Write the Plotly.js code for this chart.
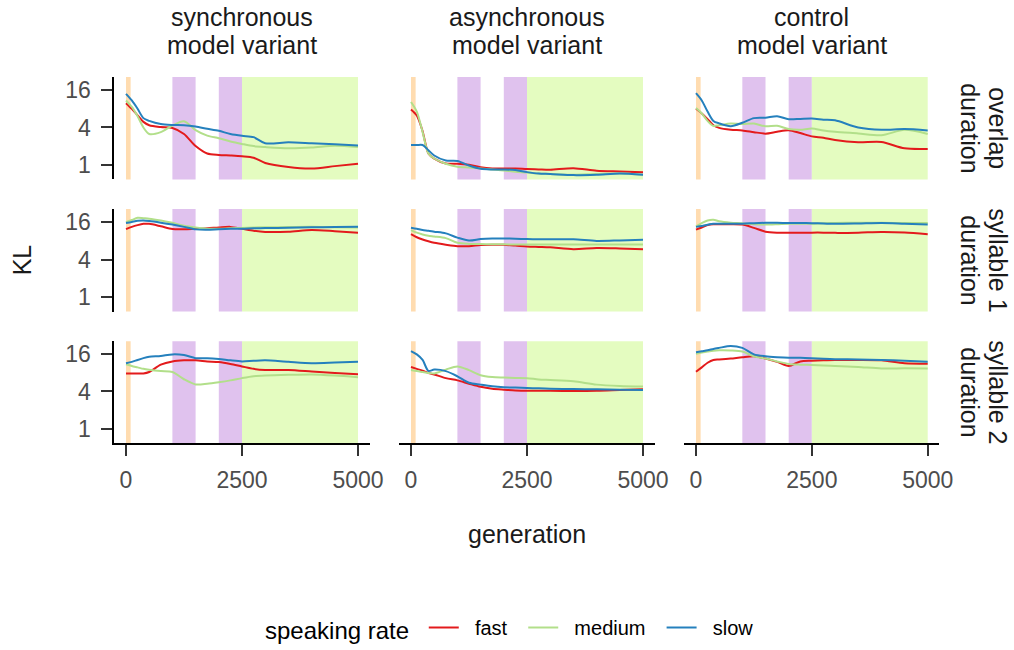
<!DOCTYPE html>
<html>
<head>
<meta charset="utf-8">
<script src="https://cdn.plot.ly/plotly-3.0.1.min.js"></script>
<style>html,body{margin:0;padding:0;background:#fff}#chart{width:1014px;height:650px}</style>
</head>
<body>
<div id="chart"></div>
<script>
// ---------- data ----------
const generation = [0,125,250,375,500,750,1000,1250,1500,1750,2000,2250,2500,2750,3000,3500,4000,4500,5000];
const variants = ['synchronous', 'asynchronous', 'control'];
const variantSuffix = 'model variant';
const measures = ['overlap', 'syllable 1', 'syllable 2'];
const measureSuffix = 'duration';
const rates = ['fast', 'medium', 'slow'];
const legendTitle = 'speaking rate';
const xTickVals = [0, 2500, 5000];
const xTickText = ['0', '2500', '5000'];
const yTickVals = [1, 4, 16];
const yTickText = ['1', '4', '16'];
// training phases (generation ranges)
const phaseStart = [0, 1000, 2000, 2500];
const phaseEnd = [100, 1500, 2500, 5000];

// KL values: synchronous
const sync_overlap_fast   = [9.85,8.0,6.28,4.92,4.35,4.06,3.92,3.14,2.0,1.52,1.44,1.41,1.37,1.30,1.07,0.92,0.87,0.95,1.04];
const sync_overlap_medium = [10.9,8.57,6.06,4.0,3.14,3.36,4.29,5.03,3.63,2.95,2.68,2.38,2.17,2.0,1.93,1.84,1.89,2.03,1.93];
const sync_overlap_slow   = [13.9,10.9,8.0,5.66,5.1,4.53,4.38,4.35,4.14,3.81,3.53,3.14,2.93,2.79,2.22,2.30,2.22,2.14,2.04];
const sync_syl1_fast   = [12.4,13.5,14.4,15.1,15.1,13.8,12.5,12.4,12.6,12.8,13.2,13.5,12.6,11.7,11.2,11.3,12.0,11.5,10.9];
const sync_syl1_medium = [16.0,17.4,18.9,18.6,18.3,17.1,15.7,14.1,13.2,12.6,12.6,12.8,13.0,13.2,13.3,13.4,13.5,13.3,13.2];
const sync_syl1_slow   = [15.6,16.2,16.9,17.1,16.8,15.8,14.7,13.5,12.3,12.1,12.4,12.6,12.6,12.8,12.9,13.1,13.3,13.4,13.5];
const sync_syl2_fast   = [7.84,7.84,7.84,7.84,8.28,10.9,12.3,12.8,12.8,12.3,12.0,11.2,10.2,9.32,8.94,8.94,8.46,8.0,7.62];
const sync_syl2_medium = [11.1,10.4,9.85,9.32,9.0,8.57,8.28,6.32,5.21,5.35,5.66,6.06,6.59,7.06,7.26,7.46,7.57,7.26,6.82];
const sync_syl2_slow   = [11.5,12.1,13.0,13.9,14.6,15.1,16.0,15.6,13.9,13.9,13.5,12.8,12.3,12.6,12.8,12.1,11.5,11.8,12.2];
// asynchronous
const async_overlap_fast   = [7.83,6.23,3.48,1.52,1.26,1.05,1.04,1.0,0.91,0.87,0.87,0.87,0.85,0.84,0.83,0.88,0.80,0.78,0.76];
const async_overlap_medium = [10.3,7.21,3.36,1.52,1.26,1.04,0.93,0.90,0.87,0.84,0.81,0.77,0.75,0.72,0.71,0.69,0.71,0.72,0.69];
const async_overlap_slow   = [2.08,2.08,2.08,1.72,1.41,1.17,1.15,0.97,0.86,0.84,0.84,0.82,0.76,0.72,0.71,0.68,0.69,0.72,0.69];
const async_syl1_fast   = [10.3,9.19,8.46,7.89,7.46,6.96,6.59,6.59,6.87,6.96,6.92,6.73,6.5,6.41,6.32,5.9,6.15,6.06,5.9];
const async_syl1_medium = [12.0,10.9,10.2,9.71,9.45,8.88,7.46,7.16,7.11,7.06,7.06,7.01,7.01,7.01,7.01,7.01,7.01,7.01,7.01];
const async_syl1_slow   = [13.1,12.6,12.0,11.7,11.3,10.6,9.06,8.11,8.57,8.75,8.75,8.69,8.57,8.51,8.51,8.51,8.0,8.17,8.4];
const async_syl2_fast   = [9.99,9.32,8.69,8.0,7.57,6.59,6.06,5.35,4.76,4.44,4.29,4.17,4.11,4.11,4.11,4.08,4.11,4.23,4.35];
const async_syl2_medium = [8.94,8.57,8.28,8.0,7.84,9.06,10.2,8.88,7.36,6.87,6.73,6.63,6.59,6.28,6.15,5.86,5.17,4.92,4.82];
const async_syl2_slow   = [18.1,16.0,13.0,8.63,9.06,8.57,7.06,5.54,5.17,4.86,4.69,4.63,4.56,4.5,4.44,4.38,4.35,4.29,4.23];
// control
const control_overlap_fast   = [8.0,6.73,5.46,4.35,3.94,3.68,3.58,3.36,3.18,3.41,3.61,3.25,2.87,2.73,2.5,2.3,2.33,1.84,1.8];
const control_overlap_medium = [8.22,6.73,5.1,4.23,4.35,4.63,4.53,4.63,4.17,4.26,3.78,3.68,3.84,3.58,3.41,3.2,2.99,3.66,3.14];
const control_overlap_slow   = [14.3,10.9,7.21,5.1,4.66,4.2,4.76,5.66,5.74,6.06,5.43,5.5,5.58,5.35,5.21,4.0,3.66,3.76,3.58];
const control_syl1_fast   = [12.2,13.2,14.4,14.9,14.9,14.9,14.7,13.0,11.3,10.9,10.9,10.9,10.9,10.9,10.8,10.9,11.2,11.0,10.3];
const control_syl1_medium = [13.8,15.5,17.1,17.6,16.6,15.8,15.5,14.9,14.7,14.9,15.2,15.2,15.2,15.5,15.6,15.8,15.7,15.6,15.6];
const control_syl1_slow   = [13.5,13.9,14.6,15.2,15.2,15.2,15.2,15.5,15.7,15.7,15.6,15.6,15.5,15.3,15.1,15.3,15.6,15.2,14.8];
const control_syl2_fast   = [8.34,9.85,11.7,13.0,13.2,13.7,14.4,14.9,13.7,12.1,10.4,12.3,12.6,12.8,13.0,13.0,12.8,11.5,11.3];
const control_syl2_medium = [16.3,17.1,17.8,18.4,18.6,18.5,17.8,14.9,13.7,12.3,11.2,10.9,10.8,10.6,10.4,9.99,9.45,9.51,9.45];
const control_syl2_slow   = [17.4,18.0,18.6,19.6,20.4,21.9,20.4,16.0,14.9,14.4,14.1,14.1,13.9,13.6,13.4,13.2,13.0,12.6,12.2];

// panels[row][col] = [fast, medium, slow]
const panels = [
  [[sync_overlap_fast, sync_overlap_medium, sync_overlap_slow],
   [async_overlap_fast, async_overlap_medium, async_overlap_slow],
   [control_overlap_fast, control_overlap_medium, control_overlap_slow]],
  [[sync_syl1_fast, sync_syl1_medium, sync_syl1_slow],
   [async_syl1_fast, async_syl1_medium, async_syl1_slow],
   [control_syl1_fast, control_syl1_medium, control_syl1_slow]],
  [[sync_syl2_fast, sync_syl2_medium, sync_syl2_slow],
   [async_syl2_fast, async_syl2_medium, async_syl2_slow],
   [control_syl2_fast, control_syl2_medium, control_syl2_slow]]
];

// ---------- styling ----------
const W = 1014, H = 650;
const FONT = '"Liberation Sans", Arial, Helvetica, sans-serif';
const NB = '\u00a0';
const rateColors = ['#E31A1C', '#B2DF8A', '#2580BD'];
const phaseColors = ['#FFDCB0', '#E0C2EE', '#E0C2EE', '#E4FCC0'];
const colPx = [[114.4, 369.6], [399.4, 654.6], [684.4, 939.3]];
const rowPx = [[78, 182], [212, 316], [346, 449.5]];
const yRange = [Math.log10(Math.pow(2, -0.79)), Math.log10(Math.pow(2, 4.71))];

const traces = [];
const layout = {
  width: W, height: H,
  margin: {l: 0, r: 0, t: 0, b: 0},
  paper_bgcolor: '#fff', plot_bgcolor: 'rgba(0,0,0,0)',
  font: {family: FONT, color: '#000'},
  showlegend: true,
  legend: {
    orientation: 'h', x: 516 / W, xanchor: 'center', y: 1 - 638 / H, yanchor: 'middle',
    font: {size: 20, color: '#000'},
    title: {text: legendTitle + NB, side: 'left', font: {size: 24, color: '#000'}},
    itemwidth: 30, tracegroupgap: 0
  },
  shapes: [], annotations: []
};

for (let r = 0; r < 3; r++) {
  for (let c = 0; c < 3; c++) {
    const idx = r * 3 + c + 1;
    const sfx = idx === 1 ? '' : String(idx);
    const xa = 'x' + sfx, ya = 'y' + sfx;
    const bottom = r === 2, left = c === 0;
    layout['xaxis' + sfx] = {
      domain: [colPx[c][0] / W, colPx[c][1] / W],
      range: [-250, 5250], anchor: ya,
      tickvals: xTickVals, ticktext: xTickText,
      showticklabels: bottom, ticks: bottom ? 'outside' : '', ticklen: 11, tickwidth: 2, tickcolor: '#333333',
      tickfont: {size: 23, color: '#4d4d4d'}, ticklabelstandoff: 4,
      showline: bottom, linecolor: '#000', linewidth: 2,
      showgrid: false, zeroline: false, fixedrange: true
    };
    layout['yaxis' + sfx] = {
      domain: [1 - rowPx[r][1] / H, 1 - rowPx[r][0] / H],
      type: 'log', range: yRange, anchor: xa,
      tickvals: yTickVals, ticktext: yTickText,
      showticklabels: left, ticks: left ? 'outside' : '', ticklen: 11, tickwidth: 2, tickcolor: '#333333',
      tickfont: {size: 23, color: '#4d4d4d'}, ticklabelstandoff: 6,
      showline: left, linecolor: '#000', linewidth: 2,
      showgrid: false, zeroline: false, fixedrange: true
    };
    for (let p = 0; p < phaseStart.length; p++) {
      layout.shapes.push({
        type: 'rect', layer: 'below', xref: xa, yref: ya + ' domain',
        x0: phaseStart[p], x1: phaseEnd[p], y0: 0, y1: 1,
        fillcolor: phaseColors[p], line: {width: 0}
      });
    }
    for (let k = 0; k < 3; k++) {
      traces.push({
        type: 'scatter', mode: 'lines', x: generation, y: panels[r][c][k],
        xaxis: xa, yaxis: ya, name: NB + NB + rates[k] + NB + NB, legendgroup: rates[k],
        showlegend: idx === 1,
        line: {color: rateColors[k], width: 2, shape: 'spline', smoothing: 0.8},
        hoverinfo: 'skip'
      });
    }
  }
}

function label(x, y, text, angle) {
  layout.annotations.push({
    xref: 'paper', yref: 'paper', x: x / W, y: 1 - y / H,
    xanchor: 'center', yanchor: 'middle', showarrow: false, textangle: angle || 0,
    text: text, font: {size: 25, color: '#1a1a1a'}, borderpad: 0
  });
}
// column strip labels (two lines each)
for (let c = 0; c < 3; c++) {
  const cx = (colPx[c][0] + colPx[c][1]) / 2;
  label(cx, 17, variants[c]);
  label(cx, 45.5, variantSuffix);
}
// row strip labels (two lines each, rotated)
for (let r = 0; r < 3; r++) {
  const cy = (rowPx[r][0] + rowPx[r][1]) / 2;
  label(998, cy, measures[r], 90);
  label(970, cy, measureSuffix, 90);
}
// axis titles
label(22, 264, 'KL', -90);
label(527, 542, 'generation');

Plotly.newPlot('chart', traces, layout, {staticPlot: true, displayModeBar: false});
</script>
</body>
</html>
